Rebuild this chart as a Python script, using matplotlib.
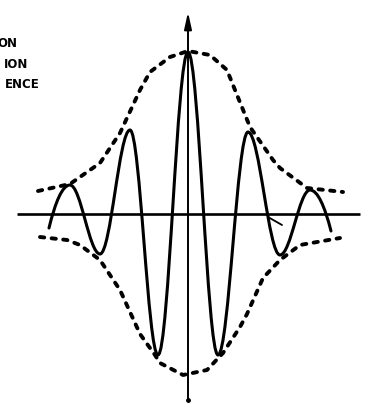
import matplotlib
matplotlib.use("Agg")
import matplotlib.pyplot as plt
from matplotlib.path import Path
from matplotlib.patches import PathPatch

# --- Wave extrema (x offset, amplitude), left end to right end ---
wave_x = [-139, -118, -88, -58, -30, 0, 30, 60, 92, 122, 143]
wave_y = [-14, 29, -40, 84, -141, 162, -141, 82, -41, 24, -17]

# --- Envelope, upper and lower dashed curves ---
upper_x = [-150, -118, -98, -88, -68, -48, -38, -18, 0, 22, 39, 47, 62, 85, 92, 119, 155]
upper_y = [23, 30, 44, 51, 81, 124, 142, 157, 163, 159, 144, 124, 87, 54, 46, 26, 22]
lower_x = [-148, -121, -108, -88, -68, -48, -33, -28, -5, 19, 35, 52, 59, 75, 92, 112, 152]
lower_y = [-23, -26, -31, -46, -76, -120, -141, -149, -161, -156, -139, -113, -100, -64, -46, -31, -24]

# --- Axes extents ---
haxis_x = [-171, 172]
vaxis_y = [-186, 202]

# --- Labels (cut off at the left edge) ---
label_text = ["ON", "ION", "ENCE"]
label_x = [-171, -160, -148]
label_y = [167, 146, 126]

fig = plt.figure(figsize=(3.67, 4.03), dpi=100)
ax = fig.add_axes([0, 0, 1, 1])
ax.set_xlim(-188, 179)
ax.set_ylim(-189, 214)
ax.axis("off")

# axes lines
ax.plot(haxis_x, [0, 0], color="black", lw=1.9, solid_capstyle="butt")
ax.plot([0, 0], [vaxis_y[0], vaxis_y[1] - 12], color="black", lw=1.4,
        solid_capstyle="round")
ax.annotate("", xy=(0, vaxis_y[1]), xytext=(0, vaxis_y[1] - 16),
            arrowprops=dict(arrowstyle="-|>,head_length=1.0,head_width=0.22",
                            color="black", lw=1.4, shrinkA=0, shrinkB=0))
ax.plot([0], [vaxis_y[0]], marker="o", ms=2.5, color="black")

# small leader mark near the right crossing
ax.plot([80, 94], [-3, -11], color="black", lw=1.3, solid_capstyle="round")

# envelope
dash = (0, (1.1, 1.9))
ax.plot(upper_x, upper_y, color="black", lw=2.8, linestyle=dash,
        dash_capstyle="round", solid_joinstyle="round")
ax.plot(lower_x, lower_y, color="black", lw=2.8, linestyle=dash,
        dash_capstyle="round", solid_joinstyle="round")

# modulated wave as cubic segments between extrema
k = 1 - 2 / 3.14159265
verts = [(wave_x[0], wave_y[0])]
codes = [Path.MOVETO]
n = len(wave_x)
for i in range(n - 1):
    x0, y0, x1, y1 = wave_x[i], wave_y[i], wave_x[i + 1], wave_y[i + 1]
    dx, dy = x1 - x0, y1 - y0
    if i == 0:
        c1 = (x0 + 0.3 * dx, y0 + 0.6 * dy)
    else:
        c1 = (x0 + k * dx, y0)
    if i == n - 2:
        c2 = (x1 - 0.3 * dx, y1 - 0.6 * dy)
    else:
        c2 = (x1 - k * dx, y1)
    verts += [c1, c2, (x1, y1)]
    codes += [Path.CURVE4] * 3
ax.add_patch(PathPatch(Path(verts, codes), facecolor="none", edgecolor="black",
                       lw=2.2, joinstyle="round", capstyle="round"))

for t, x, y in zip(label_text, label_x, label_y):
    ax.text(x, y, t, ha="right", va="baseline", fontsize=8.5,
            fontweight="bold", family="DejaVu Sans", color="black")

fig.savefig("out.png", dpi=100, facecolor="white")
